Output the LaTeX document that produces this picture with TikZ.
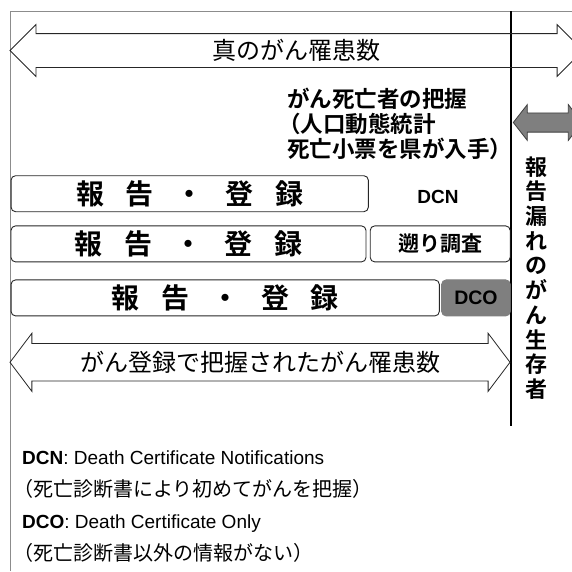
\documentclass[tikz,border=0pt]{standalone}
\usepackage{fontspec}
\setmainfont{Liberation Sans}
\newfontfamily\jp[BoldFont={Noto Sans CJK JP Bold}]{Noto Sans CJK JP}
\usepackage{xcolor}
\definecolor{cFrame}{HTML}{8C8C8C}
\definecolor{cLine}{HTML}{262626}
\definecolor{cFill}{HTML}{7F7F7F}
\definecolor{cEdge}{HTML}{3F3F3F}
\usepackage{tikz}
\usetikzlibrary{positioning,shapes.arrows}
\newcommand\rsep{\hspace{0.78em}}
\tikzset{
  reg-box/.style={draw=cLine,line width=0.9pt,rounded corners=4.5pt,inner sep=0pt,
    minimum height=36pt,font=\jp\bfseries\fontsize{28}{30}\selectfont},
  side-box/.style={reg-box,font=\jp\bfseries\fontsize{21}{24}\selectfont},
  dco-box/.style={side-box,fill=cFill,draw=cFill,font=\bfseries\fontsize{19.5}{22}\selectfont},
  big-arrow/.style={draw=cLine,line width=0.8pt,double arrow,inner xsep=0pt,inner ysep=0pt,
    font=\jp\fontsize{24}{26}\selectfont},
  gray-arrow/.style={big-arrow,draw=cEdge,fill=cFill},
  note/.style={inner sep=0pt,align=left},
}

\begin{document}
\begin{tikzpicture}[x=1pt,y=-1pt]
  \useasboundingbox (0,0) rectangle (572,571);
  \clip (0,0) rectangle (572,571);
  % frame and divider
  \coordinate (framebl) at (10.5,571);
  \coordinate (frametl) at (10.5,11);
  \coordinate (frametr) at (572,11);
  \draw[cFrame,line width=1pt] (framebl) -- (frametl) -- (frametr);
  \coordinate (divtop) at (511,11);
  \coordinate (divbot) at (511,426);
  \draw[line width=2.6pt] (divtop) -- (divbot);
  % arrows
  \node[big-arrow,minimum height=573pt,double arrow head extend=9pt,double arrow tip angle=90,
    text height=25.6pt,text depth=7.4pt] (truecases) at (296.5,50.5) {真のがん罹患数};
  \node[gray-arrow,minimum height=69pt,double arrow head extend=8.3pt,double arrow tip angle=104,
    text height=9.2pt,text depth=9.2pt] (missarrow) at (547.8,122.5) {};
  \node[note,anchor=west,font=\jp\bfseries\fontsize{22.5}{25}\selectfont] (deathnote) at (287,124)
    {がん死亡者の把握\\\kern-0.4em（人口動態統計\\死亡小票を県が入手）};
  % registration rows
  \node[reg-box,minimum width=357.3pt] (reg1) at (189.7,193.7) {報\rsep 告\rsep ・\rsep 登\rsep 録};
  \node[font=\bfseries\fontsize{19}{22}\selectfont] (dcn) at (438,196.7) {DCN};
  \node[reg-box,minimum width=355pt] (reg2) at (188.5,243.9) {報\rsep 告\rsep ・\rsep 登\rsep 録};
  \node[side-box,minimum width=140pt,right=3.3pt of reg2] (trace) {遡り調査};
  \node[reg-box,minimum width=428.3pt] (reg3) at (225.2,297.9) {報\rsep 告\rsep ・\rsep 登\rsep 録};
  \node[dco-box,minimum width=68.6pt,right=1.4pt of reg3] (dco) {DCO};
  \node[big-arrow,minimum height=500pt,double arrow head extend=10.3pt,double arrow tip angle=106,
    text height=27.5pt,text depth=9.2pt] (regcases) at (260,362.3) {がん登録で把握されたがん罹患数};
  % survivors not reported
  \node[note,align=center,font=\jp\bfseries\fontsize{22}{24.7}\selectfont] (missed) at (536.5,278)
    {報\\告\\漏\\れ\\の\\が\\ん\\生\\存\\者};
  % legend
  \node[note,anchor=west,font=\fontsize{19}{32}\selectfont] (legend) at (22,507)
    {\textbf{DCN}: Death Certificate Notifications\\
     {\jp\fontsize{20}{32}\selectfont\kern-0.45em（死亡診断書により初めてがんを把握）}\\
     \textbf{DCO}: Death Certificate Only\\
     {\jp\fontsize{20}{32}\selectfont\kern-0.45em（死亡診断書以外の情報がない）}};
\end{tikzpicture}
\end{document}
